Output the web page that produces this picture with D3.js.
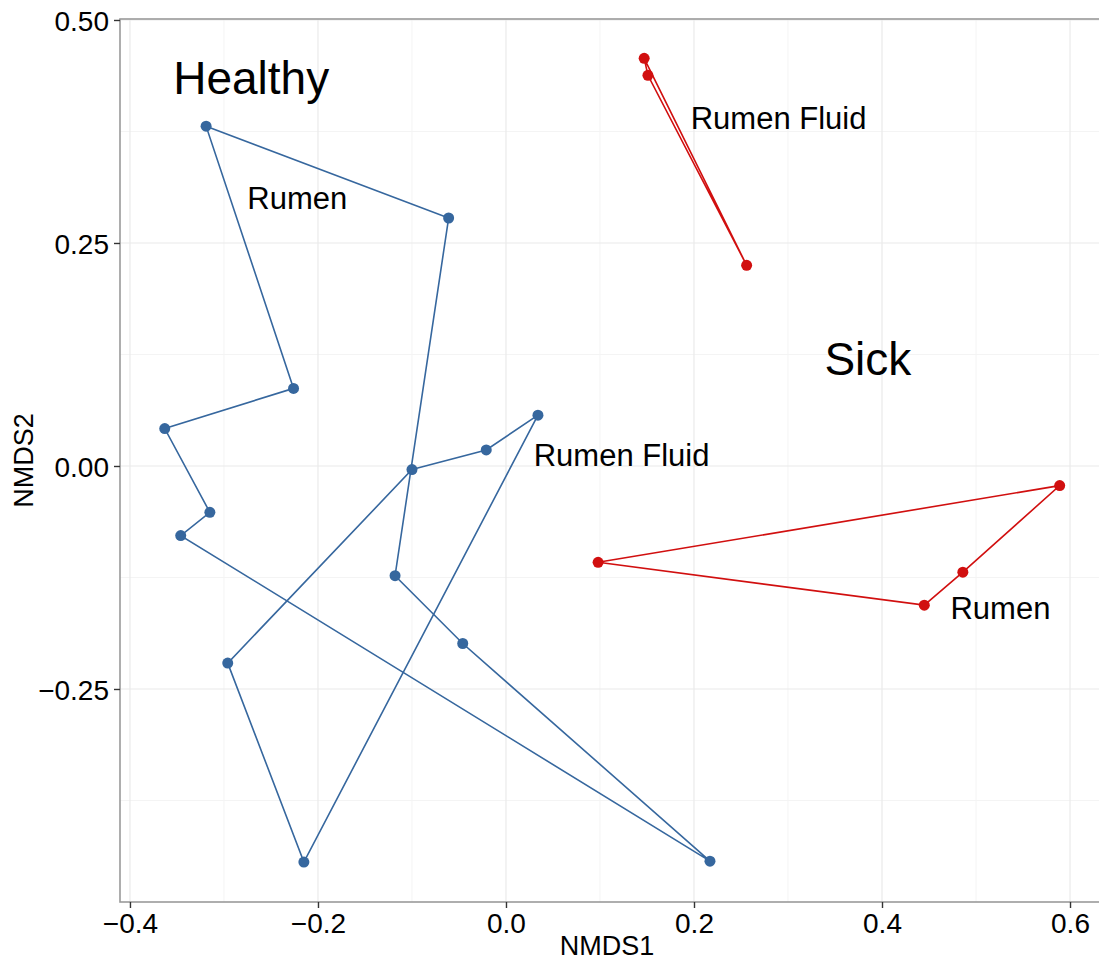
<!DOCTYPE html>
<html>
<head>
<meta charset="utf-8">
<script src="https://cdn.jsdelivr.net/npm/d3@7"></script>
<style>
  body { margin: 0; background: #fff; }
  text { font-family: Helvetica, "Liberation Sans", Arial, sans-serif; fill: #000; }
</style>
</head>
<body>
<div id="chart"></div>
<script>
// NMDS coordinates (closed outlines, drawn in data order)
var healthyRumen = [
  [-0.319, 0.381], [-0.061, 0.278], [-0.118, -0.123], [-0.046, -0.199],
  [0.217, -0.443], [-0.346, -0.078], [-0.315, -0.052], [-0.363, 0.042],
  [-0.226, 0.087]
];
var healthyFluid = [
  [-0.100, -0.004], [-0.021, 0.018], [0.034, 0.057], [-0.215, -0.444],
  [-0.296, -0.221]
];
var sickFluid = [[0.147, 0.457], [0.151, 0.438], [0.256, 0.225]];
var sickRumen = [[0.098, -0.108], [0.589, -0.022], [0.486, -0.119], [0.445, -0.156]];

var groups = [
  {name: "Healthy Rumen", state: "Healthy", pts: healthyRumen},
  {name: "Healthy Rumen Fluid", state: "Healthy", pts: healthyFluid},
  {name: "Sick Rumen Fluid", state: "Sick", pts: sickFluid},
  {name: "Sick Rumen", state: "Sick", pts: sickRumen}
];

var labels = [
  {text: "Healthy", x: -0.271, y: 0.435, big: true},
  {text: "Rumen", x: -0.222, y: 0.300},
  {text: "Rumen Fluid", x: 0.290, y: 0.389},
  {text: "Sick", x: 0.385, y: 0.120, big: true},
  {text: "Rumen Fluid", x: 0.123, y: 0.012},
  {text: "Rumen", x: 0.526, y: -0.160}
];

var xTicks = [-0.4, -0.2, 0.0, 0.2, 0.4, 0.6];
var yTicks = [-0.25, 0.00, 0.25, 0.50];
var xMinor = [-0.3, -0.1, 0.1, 0.3, 0.5];
var yMinor = [-0.375, -0.125, 0.125, 0.375];

var colors = {Healthy: "#36679e", Sick: "#d10f0f"};

var W = 1099, H = 961;
var margin = {top: 19, right: -1, bottom: 59, left: 120};
var width = W - margin.left - margin.right,
    height = H - margin.top - margin.bottom;

var x = d3.scaleLinear().domain([-0.4106, 0.6319]).range([0, width]);
var y = d3.scaleLinear().domain([-0.4888, 0.5011]).range([height, 0]);

var svg = d3.select("#chart").append("svg")
  .attr("width", W).attr("height", H);

var g = svg.append("g")
  .attr("transform", "translate(" + margin.left + "," + margin.top + ")");

// grid
g.selectAll(".xminor").data(xMinor).enter().append("line")
  .attr("x1", d => x(d)).attr("x2", d => x(d)).attr("y1", 0).attr("y2", height)
  .attr("stroke", "#f4f4f4").attr("stroke-width", 1);
g.selectAll(".yminor").data(yMinor).enter().append("line")
  .attr("y1", d => y(d)).attr("y2", d => y(d)).attr("x1", 0).attr("x2", width)
  .attr("stroke", "#f4f4f4").attr("stroke-width", 1);
g.selectAll(".xmajor").data(xTicks).enter().append("line")
  .attr("x1", d => x(d)).attr("x2", d => x(d)).attr("y1", 0).attr("y2", height)
  .attr("stroke", "#eaeaea").attr("stroke-width", 1.2);
g.selectAll(".ymajor").data(yTicks).enter().append("line")
  .attr("y1", d => y(d)).attr("y2", d => y(d)).attr("x1", 0).attr("x2", width)
  .attr("stroke", "#eaeaea").attr("stroke-width", 1.2);

// outlines
var line = d3.line().x(d => x(d[0])).y(d => y(d[1])).curve(d3.curveLinearClosed);

g.selectAll(".hull").data(groups).enter().append("path")
  .attr("d", d => line(d.pts))
  .attr("fill", "none")
  .attr("stroke", d => colors[d.state])
  .attr("stroke-width", 1.6);

groups.forEach(function(grp) {
  g.selectAll(null).data(grp.pts).enter().append("circle")
    .attr("cx", d => x(d[0])).attr("cy", d => y(d[1]))
    .attr("r", 5.5)
    .attr("fill", colors[grp.state]);
});

// annotations
g.selectAll(".lab").data(labels).enter().append("text")
  .attr("x", d => x(d.x)).attr("y", d => y(d.y))
  .attr("text-anchor", "middle")
  .attr("dominant-baseline", "central")
  .style("font-size", d => d.big ? "46px" : "31px")
  .text(d => d.text);

// panel border
g.append("rect").attr("width", width).attr("height", height)
  .attr("fill", "none").attr("stroke", "#9a9a9a").attr("stroke-width", 1.6);

// axes
var xAxis = g.append("g").attr("transform", "translate(0," + height + ")")
  .call(d3.axisBottom(x).tickValues(xTicks).tickFormat(d3.format(".1f"))
    .tickSize(6).tickPadding(5));
var yAxis = g.append("g")
  .call(d3.axisLeft(y).tickValues(yTicks).tickFormat(d3.format(".2f"))
    .tickSize(6).tickPadding(5));
[xAxis, yAxis].forEach(function(a) {
  a.select(".domain").remove();
  a.selectAll(".tick line").attr("stroke", "#333").attr("stroke-width", 1.4);
  a.selectAll(".tick text").style("font-size", "28px").attr("fill", "#000");
});
yAxis.selectAll(".tick text").attr("dy", "0.36em");

svg.append("text")
  .attr("x", margin.left + width / 2 - 3).attr("y", 955)
  .attr("text-anchor", "middle").style("font-size", "27px").text("NMDS1");
svg.append("text")
  .attr("transform", "translate(33," + (margin.top + height / 2) + ") rotate(-90)")
  .attr("text-anchor", "middle").style("font-size", "27px").text("NMDS2");
</script>
</body>
</html>
